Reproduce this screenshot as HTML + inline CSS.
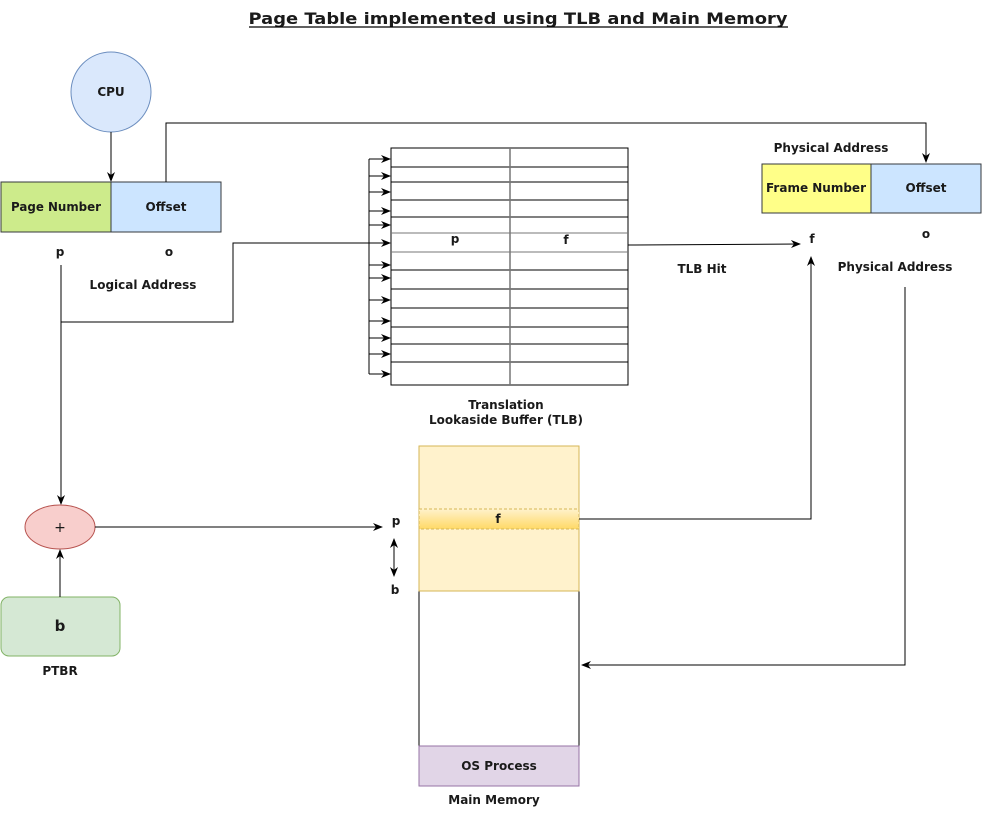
<!DOCTYPE html>
<html><head><meta charset="utf-8"><style>
html,body{margin:0;padding:0;background:#fff;}
svg{display:block;}
text{font-family:"DejaVu Sans","Liberation Sans",sans-serif;font-weight:bold;font-size:12px;fill:#1a1a1a;text-anchor:middle;}
</style></head><body>
<svg width="983" height="817" viewBox="0 0 983 817" xmlns="http://www.w3.org/2000/svg">
<defs>
<marker id="a" viewBox="0 0 10 10" refX="9" refY="5" markerWidth="10" markerHeight="10" orient="auto-start-reverse" markerUnits="userSpaceOnUse"><path d="M0,1 L10,5 L0,9 L3,5 z" fill="#000"/></marker>
<linearGradient id="g" x1="0" y1="0" x2="0" y2="1"><stop offset="0" stop-color="#fff2cc"/><stop offset="1" stop-color="#ffd966"/></linearGradient>
</defs>
<text x="518" y="24" style="font-size:16px" textLength="539" lengthAdjust="spacingAndGlyphs">Page Table implemented using TLB and Main Memory</text>
<line x1="249" y1="27" x2="788" y2="27" stroke="#000" stroke-width="1.2"/>

<circle cx="111" cy="92" r="40" fill="#dae8fc" stroke="#6c8ebf"/>
<text x="111" y="96">CPU</text>
<line x1="111" y1="132" x2="111" y2="181" stroke="#000" marker-end="url(#a)"/>
<rect x="1" y="182" width="110" height="50" fill="#cdeb8b" stroke="#36393d"/>
<rect x="111" y="182" width="110" height="50" fill="#cce5ff" stroke="#36393d"/>
<text x="56" y="211" textLength="90" lengthAdjust="spacingAndGlyphs">Page Number</text>
<text x="166" y="211">Offset</text>
<polyline points="166,182 166,123 926,123 926,162" fill="none" stroke="#000" marker-end="url(#a)"/>
<text x="60" y="256">p</text>
<text x="169" y="256">o</text>
<text x="143" y="289">Logical Address</text>

<text x="831" y="152">Physical Address</text>
<rect x="762" y="164" width="109" height="49" fill="#ffff88" stroke="#36393d"/>
<rect x="871" y="164" width="110" height="49" fill="#cce5ff" stroke="#36393d"/>
<text x="816" y="192" textLength="100" lengthAdjust="spacingAndGlyphs">Frame Number</text>
<text x="926" y="192">Offset</text>
<text x="926" y="238">o</text>
<text x="812" y="243">f</text>
<text x="895" y="271">Physical Address</text>
<text x="702" y="273">TLB Hit</text>
<line x1="628" y1="245" x2="800" y2="244" stroke="#000" marker-end="url(#a)"/>

<!-- TLB -->
<g stroke="#000" fill="none">
<rect x="391" y="148" width="237" height="237" fill="#fff"/>
<line x1="391" y1="167" x2="628" y2="167"/><line x1="391" y1="182" x2="628" y2="182"/>
<line x1="391" y1="200" x2="628" y2="200"/><line x1="391" y1="217" x2="628" y2="217"/>
<line x1="391" y1="233" x2="628" y2="233" stroke="#777"/><line x1="391" y1="252" x2="628" y2="252" stroke="#777"/>
<line x1="391" y1="270" x2="628" y2="270"/><line x1="391" y1="289" x2="628" y2="289"/>
<line x1="391" y1="308" x2="628" y2="308"/><line x1="391" y1="327" x2="628" y2="327"/>
<line x1="391" y1="344" x2="628" y2="344"/><line x1="391" y1="362" x2="628" y2="362"/>
<line x1="510" y1="148" x2="510" y2="385" stroke="#777" stroke-width="1.5"/>
<line x1="369" y1="159" x2="369" y2="374"/>
</g>
<g stroke="#000" marker-end="url(#a)">
<line x1="369" y1="159" x2="390" y2="159"/><line x1="369" y1="176" x2="390" y2="176"/>
<line x1="369" y1="192" x2="390" y2="192"/><line x1="369" y1="211" x2="390" y2="211"/>
<line x1="369" y1="225" x2="390" y2="225"/><line x1="369" y1="265" x2="390" y2="265"/>
<line x1="369" y1="278" x2="390" y2="278"/><line x1="369" y1="300" x2="390" y2="300"/>
<line x1="369" y1="321" x2="390" y2="321"/><line x1="369" y1="338" x2="390" y2="338"/>
<line x1="369" y1="354" x2="390" y2="354"/><line x1="369" y1="374" x2="390" y2="374"/>
</g>
<text x="455" y="243">p</text>
<text x="566" y="244">f</text>
<text x="506" y="409">Translation</text>
<text x="506" y="424">Lookaside Buffer (TLB)</text>

<polyline points="61,265 61,322 233,322 233,243 390,243" fill="none" stroke="#000" marker-end="url(#a)"/>
<line x1="61" y1="322" x2="61" y2="504" stroke="#000" marker-end="url(#a)"/>

<ellipse cx="60" cy="527" rx="35" ry="22" fill="#f8cecc" stroke="#b85450"/>
<text x="60" y="532" style="font-size:14px;font-weight:normal">+</text>
<rect x="1" y="597" width="119" height="59" rx="8" fill="#d5e8d4" stroke="#82b366"/>
<text x="60" y="631" style="font-size:15px">b</text>
<text x="60" y="675">PTBR</text>
<line x1="60" y1="597" x2="60" y2="550" stroke="#000" marker-end="url(#a)"/>
<line x1="95" y1="527" x2="382" y2="527" stroke="#000" marker-end="url(#a)"/>
<text x="396" y="525">p</text>
<line x1="394" y1="539" x2="394" y2="576" stroke="#000" marker-start="url(#a)" marker-end="url(#a)"/>
<text x="395" y="594">b</text>

<!-- Main memory -->
<rect x="419" y="591" width="160" height="155" fill="#fff" stroke="#000"/>
<rect x="419" y="446" width="160" height="145" fill="#fff2cc" stroke="#d6b656"/>
<rect x="419" y="509" width="160" height="20" fill="url(#g)" stroke="#d6b656" stroke-dasharray="3,2"/>
<text x="498" y="523">f</text>
<rect x="419" y="746" width="160" height="40" fill="#e1d5e7" stroke="#9673a6"/>
<text x="499" y="770">OS Process</text>
<text x="494" y="804">Main Memory</text>

<polyline points="579,519 811,519 811,257" fill="none" stroke="#000" marker-end="url(#a)"/>
<polyline points="905,287 905,665 582,665" fill="none" stroke="#000" marker-end="url(#a)"/>
</svg>
</body></html>
